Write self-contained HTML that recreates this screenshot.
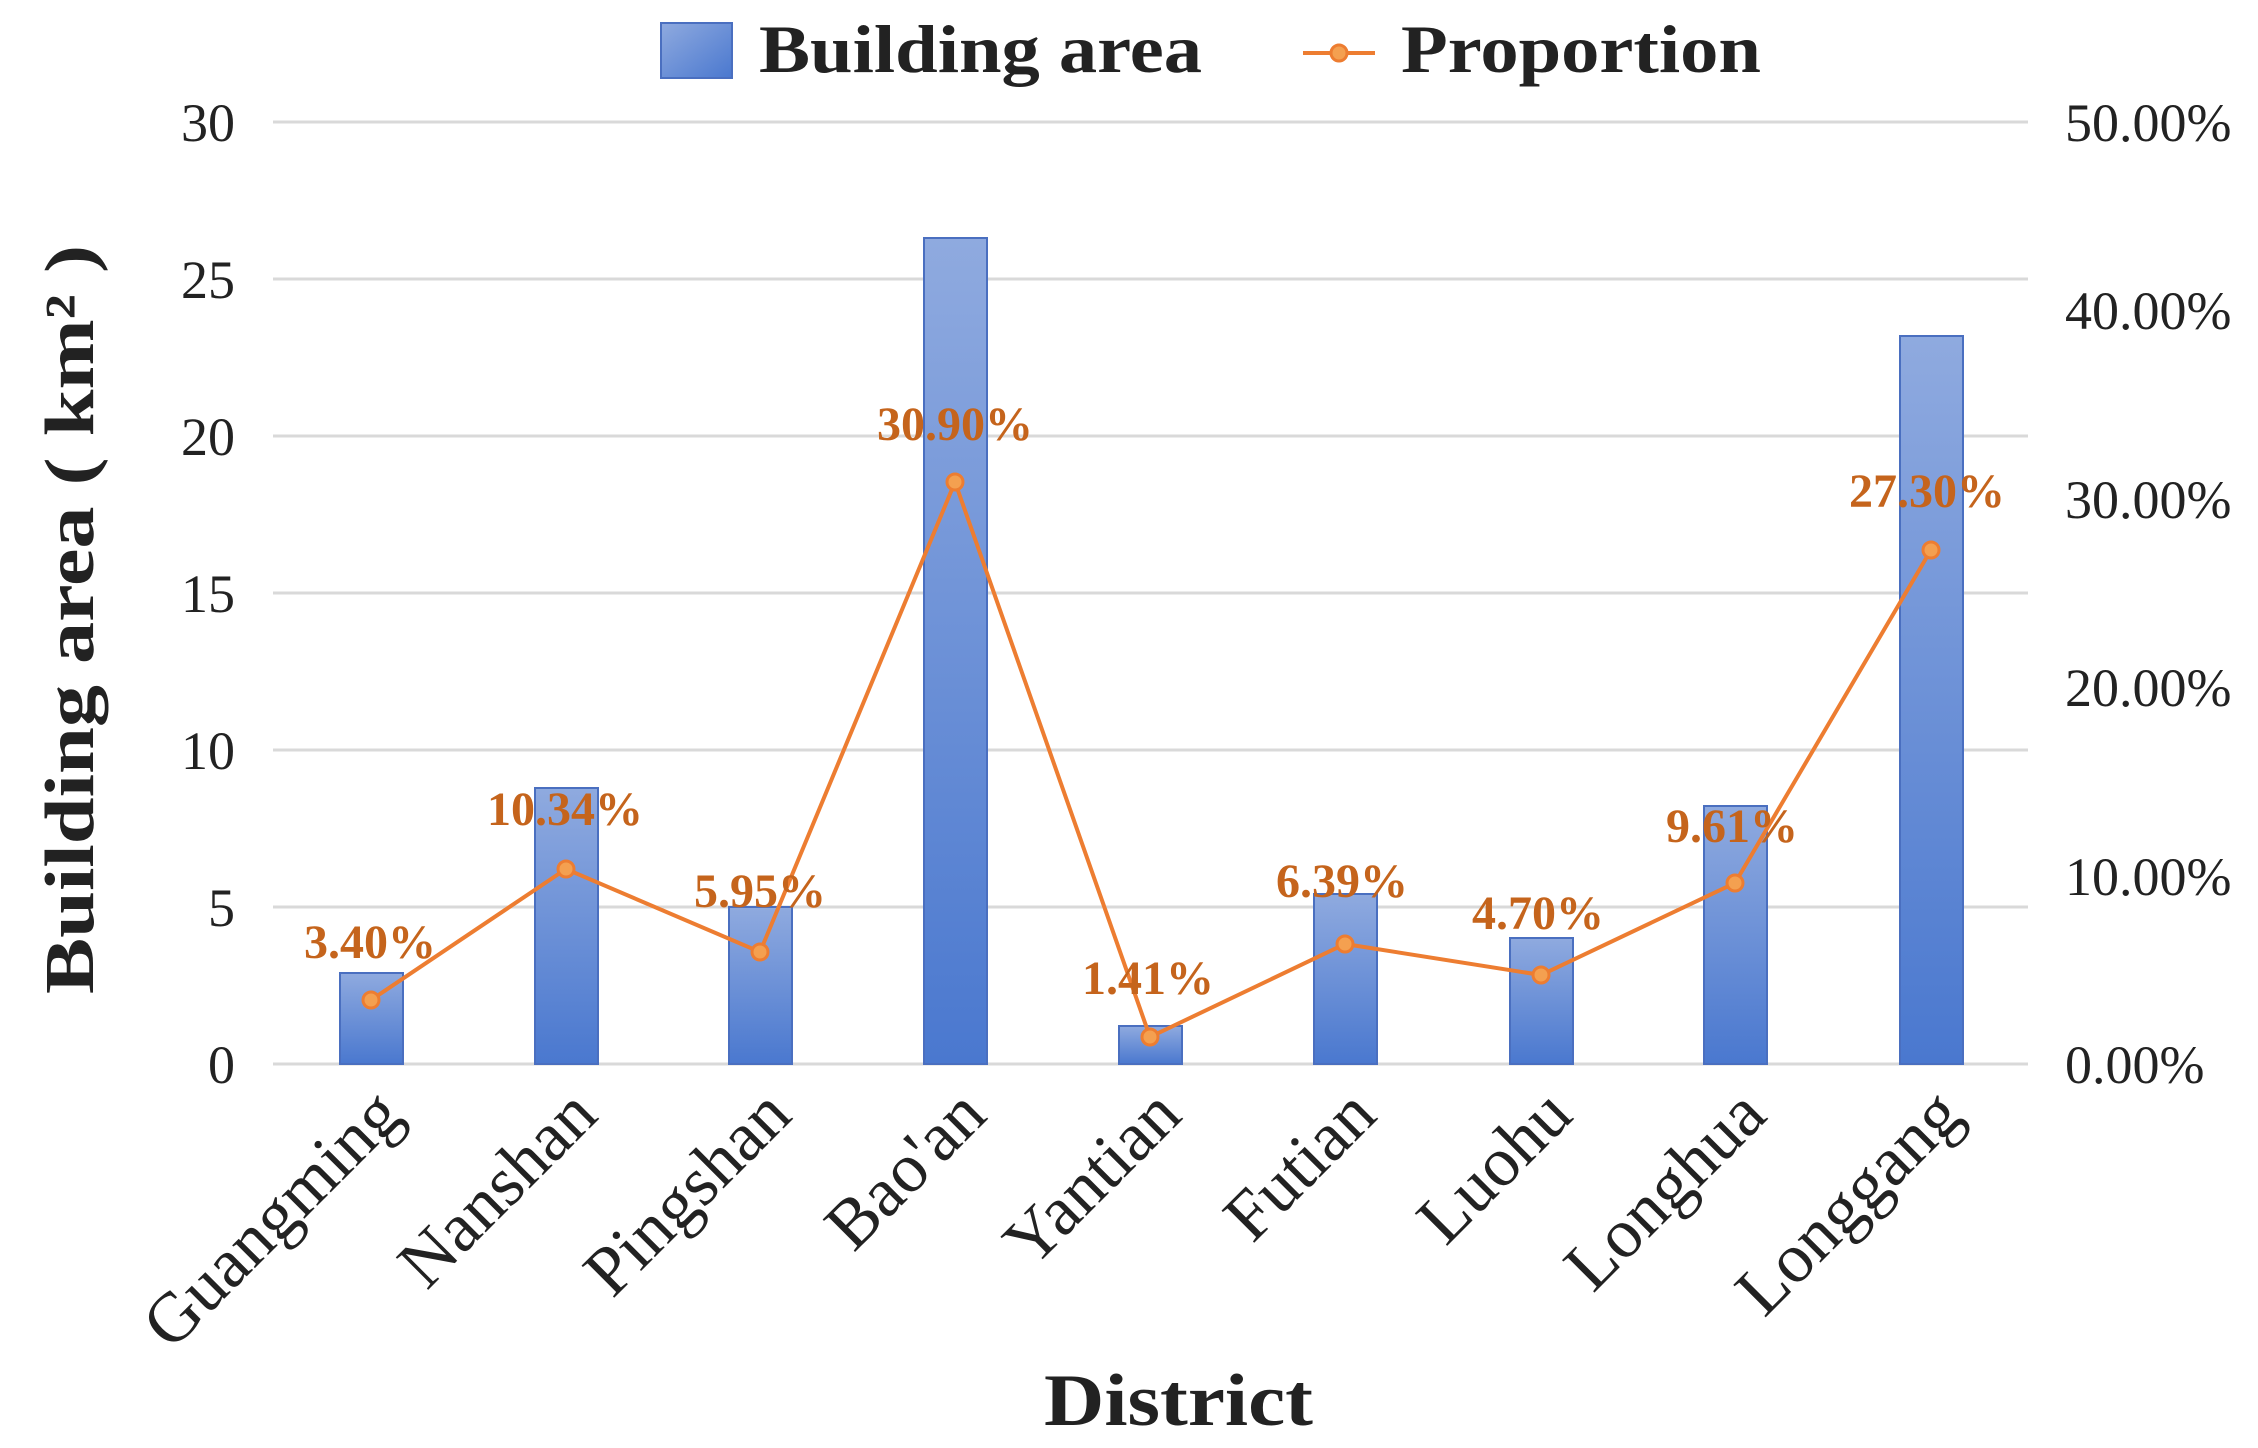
<!DOCTYPE html>
<html><head><meta charset="utf-8"><style>
html,body{margin:0;padding:0;background:#fff;}
svg{display:block;}
text{font-family:"Liberation Serif",serif;}
</style></head><body>
<svg width="2258" height="1448" viewBox="0 0 2258 1448" xmlns="http://www.w3.org/2000/svg">
<defs>
<linearGradient id="bg" x1="0" y1="0" x2="0" y2="1">
<stop offset="0" stop-color="#8faadf"/><stop offset="1" stop-color="#4a78cf"/>
</linearGradient>
<linearGradient id="lg" x1="0" y1="0" x2="1" y2="1">
<stop offset="0" stop-color="#8faadf"/><stop offset="1" stop-color="#4a78cf"/>
</linearGradient>
</defs>
<g stroke="#d9d9d9" stroke-width="3">
<line x1="273" y1="122" x2="2028" y2="122"/>
<line x1="273" y1="279" x2="2028" y2="279"/>
<line x1="273" y1="436" x2="2028" y2="436"/>
<line x1="273" y1="593" x2="2028" y2="593"/>
<line x1="273" y1="750" x2="2028" y2="750"/>
<line x1="273" y1="907" x2="2028" y2="907"/>
<line x1="273" y1="1064" x2="2028" y2="1064"/>
</g>
<g font-size="54" fill="#222" text-anchor="end">
<text x="235" y="141">30</text>
<text x="235" y="298">25</text>
<text x="235" y="455">20</text>
<text x="235" y="612">15</text>
<text x="235" y="769">10</text>
<text x="235" y="926">5</text>
<text x="235" y="1083">0</text>
</g>
<g font-size="54" fill="#222">
<text x="2065" y="141">50.00%</text>
<text x="2065" y="329">40.00%</text>
<text x="2065" y="518">30.00%</text>
<text x="2065" y="706">20.00%</text>
<text x="2065" y="895">10.00%</text>
<text x="2065" y="1083">0.00%</text>
</g>
<g fill="url(#bg)" stroke="#4a6fc0" stroke-width="2">
<rect x="340" y="973" width="63" height="91"/>
<rect x="535" y="788" width="63" height="276"/>
<rect x="729" y="907" width="63" height="157"/>
<rect x="924" y="238" width="63" height="826"/>
<rect x="1119" y="1026" width="63" height="38"/>
<rect x="1314" y="894" width="63" height="170"/>
<rect x="1510" y="938" width="63" height="126"/>
<rect x="1704" y="806" width="63" height="258"/>
<rect x="1900" y="336" width="63" height="728"/>
</g>
<polyline fill="none" stroke="#ed7d31" stroke-width="4" points="371,1000 566,869 760,952 955,482 1150,1037 1345,944 1541,975 1735,883 1931,550"/>
<g fill="#f4a050" stroke="#ed7d31" stroke-width="3">
<circle cx="371" cy="1000" r="8"/><circle cx="566" cy="869" r="8"/><circle cx="760" cy="952" r="8"/>
<circle cx="955" cy="482" r="8"/><circle cx="1150" cy="1037" r="8"/><circle cx="1345" cy="944" r="8"/>
<circle cx="1541" cy="975" r="8"/><circle cx="1735" cy="883" r="8"/><circle cx="1931" cy="550" r="8"/>
</g>
<g font-size="48" font-weight="bold" fill="#c5641c" text-anchor="middle">
<text x="370" y="958">3.40%</text>
<text x="565" y="825">10.34%</text>
<text x="760" y="907">5.95%</text>
<text x="955" y="440">30.90%</text>
<text x="1148" y="994">1.41%</text>
<text x="1342" y="897">6.39%</text>
<text x="1538" y="929">4.70%</text>
<text x="1732" y="842">9.61%</text>
<text x="1927" y="507">27.30%</text>
</g>
<g font-size="70" fill="#222" text-anchor="end">
<text transform="translate(405,1118) rotate(-45)">Guangming</text>
<text transform="translate(600,1118) rotate(-45)">Nanshan</text>
<text transform="translate(794,1118) rotate(-45)">Pingshan</text>
<text transform="translate(989,1118) rotate(-45)">Bao'an</text>
<text transform="translate(1184,1118) rotate(-45)">Yantian</text>
<text transform="translate(1379,1118) rotate(-45)">Futian</text>
<text transform="translate(1575,1118) rotate(-45)">Luohu</text>
<text transform="translate(1769,1118) rotate(-45)">Longhua</text>
<text transform="translate(1965,1118) rotate(-45)">Longgang</text>
</g>
<text transform="translate(93,994) rotate(-90)" font-size="70" font-weight="bold" fill="#222" textLength="749" lengthAdjust="spacingAndGlyphs">Building area ( km² )</text>
<text x="1044" y="1425" font-size="74" font-weight="bold" fill="#222" textLength="269" lengthAdjust="spacingAndGlyphs">District</text>
<rect x="661" y="23" width="71" height="55" fill="url(#lg)" stroke="#4a6fc0" stroke-width="2"/>
<text x="759" y="72" font-size="68" font-weight="bold" fill="#222" textLength="443" lengthAdjust="spacingAndGlyphs">Building area</text>
<line x1="1303" y1="53" x2="1375" y2="53" stroke="#ed7d31" stroke-width="4"/>
<circle cx="1339" cy="53" r="8" fill="#f4a050" stroke="#ed7d31" stroke-width="3"/>
<text x="1401" y="72" font-size="68" font-weight="bold" fill="#222" textLength="360" lengthAdjust="spacingAndGlyphs">Proportion</text>
</svg>
</body></html>
